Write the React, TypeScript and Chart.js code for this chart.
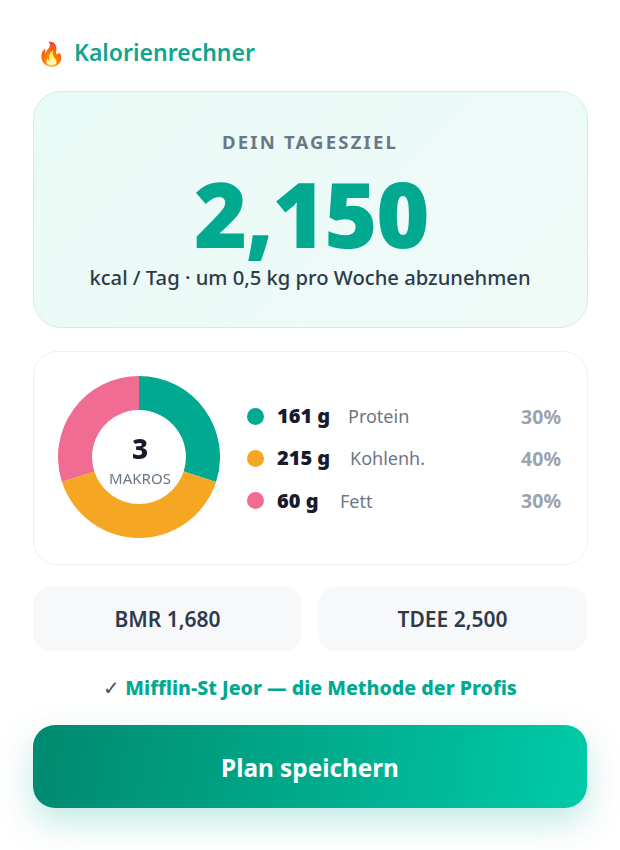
import React, { useEffect, useRef } from "react";
import { Chart, registerables } from "chart.js";

Chart.register(...registerables);

const macroNames = ["Protein", "Kohlenh.", "Fett"];
const macroPercent = [30, 40, 30];
const macroGrams = ["161 g", "215 g", "60 g"];
const macroColors = ["#00A98F", "#F5A623", "#F06C93"];
const macroNameX = [348, 350, 340];

const font = "'Noto Sans', 'Open Sans', sans-serif";

const abs = (x: number, y: number, extra: React.CSSProperties = {}): React.CSSProperties => ({
  position: "absolute",
  left: x,
  top: y,
  whiteSpace: "nowrap",
  ...extra,
});

const centered = (cy: number, extra: React.CSSProperties = {}): React.CSSProperties => ({
  position: "absolute",
  left: 0,
  width: 620,
  top: cy,
  transform: "translateY(-50%)",
  textAlign: "center",
  whiteSpace: "nowrap",
  ...extra,
});

export default function App() {
  const ref = useRef<HTMLCanvasElement>(null);
  useEffect(() => {
    const chart = new Chart(ref.current!, {
      type: "doughnut",
      data: {
        labels: macroNames,
        datasets: [{ data: macroPercent, backgroundColor: macroColors, borderWidth: 0 }],
      },
      options: {
        responsive: false,
        animation: false,
        cutout: "58%",
        plugins: { legend: { display: false }, tooltip: { enabled: false } },
        layout: { padding: 0 },
      },
    });
    return () => chart.destroy();
  }, []);

  return (
    <div style={{ position: "absolute", left: 0, top: 0, width: 620, height: 850, overflow: "hidden", background: "#fff", fontFamily: font }}>
      <div style={abs(37, 40, { fontSize: 23, lineHeight: "26px" })}>🔥</div>
      <div style={abs(74, 37, { fontSize: 23, fontWeight: 600, color: "#0FA58E", lineHeight: "30px" })}>Kalorienrechner</div>

      <div style={{ position: "absolute", left: 33, top: 91, width: 553, height: 235, borderRadius: 28, border: "1px solid #CFEFE7", background: "linear-gradient(135deg,#E9FBF6,#F0FAF8)" }} />
      <div style={centered(141, { fontSize: 18.5, fontWeight: 700, letterSpacing: 2.2, color: "#6B7785" })}>DEIN TAGESZIEL</div>
      <div style={centered(213, { left: 1, fontSize: 91, fontWeight: 900, color: "#00A98F", letterSpacing: -1.5, lineHeight: "60px" })}>2,150</div>
      <div style={centered(277, { fontSize: 20.2, fontWeight: 500, color: "#2D3A4A", lineHeight: "26px" })}>kcal / Tag · um 0,5 kg pro Woche abzunehmen</div>

      <div style={{ position: "absolute", left: 33, top: 351, width: 553, height: 212, borderRadius: 24, border: "1px solid #EEF1F3", background: "#fff" }} />
      <canvas ref={ref} width={162} height={162} style={{ position: "absolute", left: 58, top: 376, width: 162, height: 162 }} />
      <div style={{ ...abs(60, 433), width: 160, textAlign: "center", fontSize: 28, fontWeight: 800, color: "#1A1A2E", lineHeight: "30px" }}>3</div>
      <div style={{ ...abs(60, 469), width: 160, textAlign: "center", fontSize: 15, color: "#6B7785", lineHeight: "18px" }}>MAKROS</div>

      {macroNames.map((name, i) => {
        const cy = 416 + i * 42.3;
        return (
          <React.Fragment key={name}>
            <div style={{ position: "absolute", left: 247, top: cy - 8.5, width: 17, height: 17, borderRadius: "50%", background: macroColors[i] }} />
            <div style={{ ...abs(277, cy - 15), fontSize: 20, fontWeight: 900, color: "#1A1A2E", lineHeight: "30px" }}>{macroGrams[i]}</div>
            <div style={{ ...abs(macroNameX[i], cy - 15), fontSize: 18, color: "#6B7785", lineHeight: "30px" }}>{name}</div>
            <div style={{ position: "absolute", right: 59, top: cy - 14.5, fontSize: 19.5, fontWeight: 700, color: "#9AA3AE", lineHeight: "30px" }}>{macroPercent[i]}%</div>
          </React.Fragment>
        );
      })}

      <div style={{ position: "absolute", left: 33, top: 587, width: 269, height: 64, borderRadius: 18, background: "#F6F8FA", display: "flex", alignItems: "center", justifyContent: "center", fontSize: 21, fontWeight: 600, color: "#2D3A4A" }}>BMR 1,680</div>
      <div style={{ position: "absolute", left: 318, top: 587, width: 269, height: 64, borderRadius: 18, background: "#F6F8FA", display: "flex", alignItems: "center", justifyContent: "center", fontSize: 21, fontWeight: 600, color: "#2D3A4A" }}>TDEE 2,500</div>

      <div style={centered(687, { fontSize: 19.6, fontWeight: 800, color: "#00A98F" })}>
        <span style={{ color: "#4A5560", fontWeight: 400 }}>✓ </span>Mifflin-St Jeor — die Methode der Profis
      </div>

      <div style={{ position: "absolute", left: 33, top: 725, width: 554, height: 83, paddingTop: 2, boxSizing: "border-box", borderRadius: 22, background: "linear-gradient(100deg,#00896F,#00CBA8)", boxShadow: "0 14px 34px rgba(0,169,143,0.25)", display: "flex", alignItems: "center", justifyContent: "center", fontSize: 24.3, fontWeight: 700, color: "#fff" }}>Plan speichern</div>
    </div>
  );
}
